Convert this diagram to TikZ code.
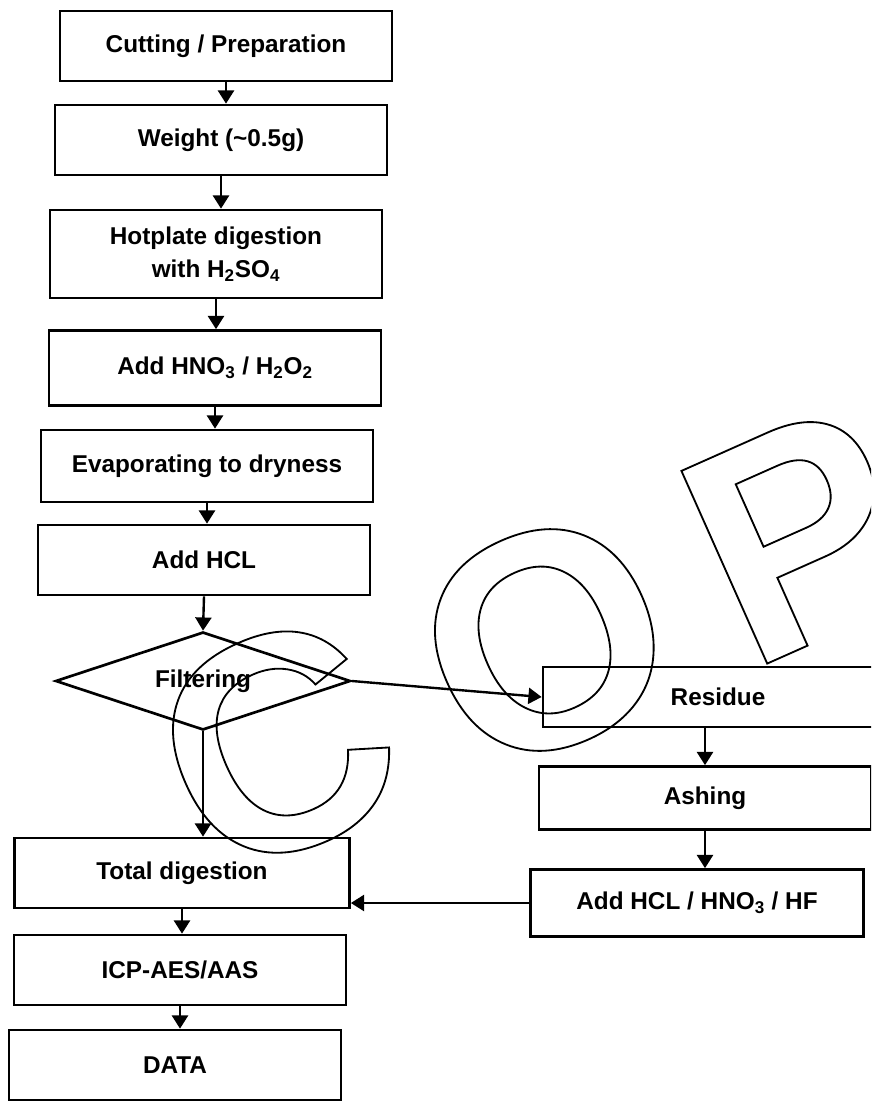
\documentclass[tikz,border=0pt]{standalone}
\usepackage{fontspec}
\setmainfont{Liberation Sans}
\usetikzlibrary{shapes.geometric,arrows.meta}
% hollow letters for the stamp
\newcommand\hollow[1]{\special{pdf:literal direct 1 Tr 1.3 w}#1\special{pdf:literal direct 0 Tr}}

\begin{document}
\begin{tikzpicture}[x=0.025cm,y=-0.025cm,
  stage/.style={draw,line width=1.9pt,minimum width=8.3cm,minimum height=1.75cm,
    inner sep=0pt,align=center,font=\bfseries\fontsize{17.3}{23.5}\selectfont},
  flow/.style={-{Triangle[length=0.33cm,width=0.4cm]},line width=1.7pt},
  stamp/.style={rotate=24,inner sep=0pt,font=\bfseries\fontsize{218}{218}\selectfont}]
\useasboundingbox (0,0) rectangle (871,1107);
\clip (0,0) rectangle (871,1107);

% main column
\node[stage] (cut) at (226,46) {Cutting / Preparation};
\node[stage] (weight) at (221,140) {Weight (\textasciitilde0.5g)};
\node[stage,minimum height=2.2cm] (hot) at (216,254) {Hotplate digestion\\with H\textsubscript{2}SO\textsubscript{4}};
\node[stage,minimum height=1.875cm] (hno) at (215,368) {Add HNO\textsubscript{3} / H\textsubscript{2}O\textsubscript{2}};
\node[stage,minimum height=1.8cm] (evap) at (207,466) {Evaporating to dryness};
\node[stage] (hcl) at (204,560) {Add HCL};
\node[draw,diamond,aspect=3,line width=1.9pt,minimum width=7.375cm,minimum height=2.45cm,
  inner sep=0pt,font=\bfseries\fontsize{17.3}{23.5}\selectfont] (filt) at (203,681) {Filtering};
\node[stage,minimum width=8.375cm] (total) at (182,873) {Total digestion};
\node[stage] (icp) at (180,970) {ICP-AES/AAS};
\node[stage] (data) at (175,1065) {DATA};

% residue branch
\node[stage,minimum width=8.75cm,minimum height=1.5cm] (res) at (718,697) {Residue};
\node[stage,minimum height=1.575cm] (ash) at (705,798) {Ashing};
\node[stage,minimum width=8.325cm,minimum height=1.675cm] (hf) at (697,903) {Add HCL / HNO\textsubscript{3} / HF};

\draw[flow] (cut.south) -- (cut.south |- weight.north);
\draw[flow] (weight.south) -- (weight.south |- hot.north);
\draw[flow] (hot.south) -- (hot.south |- hno.north);
\draw[flow] (hno.south) -- (hno.south |- evap.north);
\draw[flow] (evap.south) -- (evap.south |- hcl.north);
\draw[flow] (hcl.south) -- (filt.north);
\draw[flow] (filt.south) -- (filt.south |- total.north);
\draw[flow] (total.south) -- (total.south |- icp.north);
\draw[flow] (icp.south) -- (icp.south |- data.north);
\draw[flow] (filt.east) -- (res.west);
\draw[flow] (ash.north |- res.south) -- (ash.north);
\draw[flow] (ash.south) -- (ash.south |- hf.north);
\draw[flow] (hf.west) -- (hf.west -| total.east);

% stamp over the chart
\node[stamp] (sc) at (276,745) {\hollow{C}};
\node[stamp] (so) at (545,640) {\hollow{O}};
\node[stamp] (sp) at (799,534) {\hollow{P}};
\end{tikzpicture}
\end{document}
